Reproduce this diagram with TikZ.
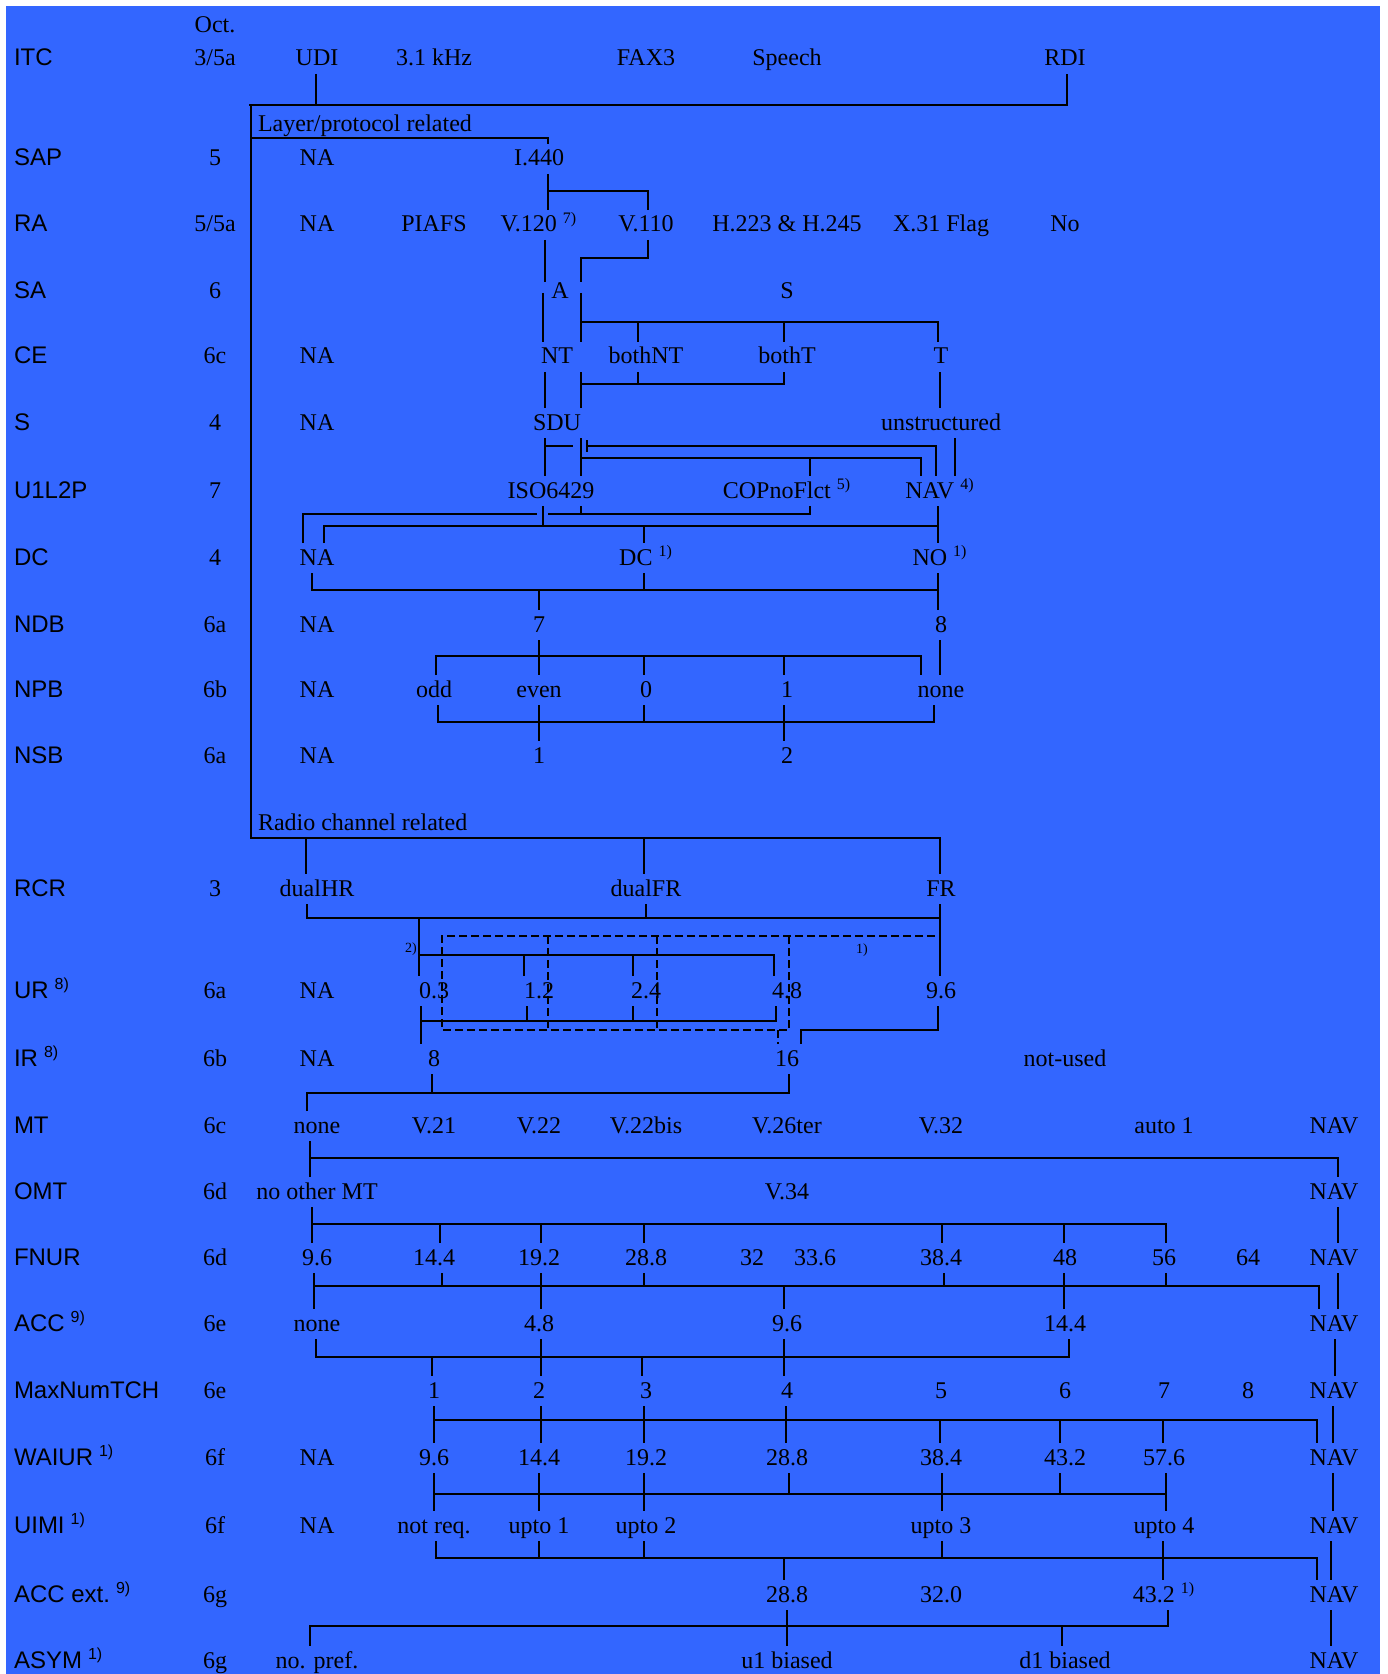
\documentclass[tikz,border=0pt]{standalone}
\usepackage{fontspec}
\setmainfont{Liberation Serif}
\setsansfont{Liberation Sans}
\definecolor{mybgblue}{RGB}{51,102,255}
\newcommand{\fnref}[1]{\hspace{3pt}\textsuperscript{#1}}

\begin{document}
\begin{tikzpicture}[x=0.5pt, y=-0.5pt, line width=1pt,
  val/.style={font=\fontsize{12}{14}\selectfont, inner sep=0pt, outer sep=3pt, text height=8pt, text depth=1pt, anchor=base},
  hdr/.style={font=\sffamily\fontsize{12}{14}\selectfont, inner sep=0pt, anchor=base west},
  grp/.style={font=\fontsize{12}{14}\selectfont, inner sep=0pt, anchor=base west},
  note/.style={font=\fontsize{7}{8}\selectfont, inner sep=0pt, anchor=base}]
\useasboundingbox (0,0) rectangle (1387,1674);
\fill[white] (0,0) rectangle (1387,1674);
\fill[mybgblue] (6,6) rectangle (1380,1674);

\node[val] (oct) at (215,33) {Oct.};
\foreach \nm/\lab/\oc/\yy in {itc/ITC/{3/5a}/66, sap/SAP/5/166, ra/RA/{5/5a}/232, sa/SA/6/299,
    ce/CE/6c/364, s/S/4/430, ul/U1L2P/7/498, dc/DC/4/565, ndb/NDB/6a/632, npb/NPB/6b/697,
    nsb/NSB/6a/763, rcr/RCR/3/896, ur/{UR\fnref{8)}}/6a/998, ir/{IR\fnref{8)}}/6b/1066,
    mt/MT/6c/1133, omt/OMT/6d/1199, fnur/FNUR/6d/1265, acc/{ACC\fnref{9)}}/6e/1331,
    mnt/MaxNumTCH/6e/1398, waiur/{WAIUR\fnref{1)}}/6f/1465, uimi/{UIMI\fnref{1)}}/6f/1533,
    acce/{ACC ext.\fnref{9)}}/6g/1602, asym/{ASYM\fnref{1)}}/6g/1668}
{
  \node[hdr] (h-\nm) at (13,\yy) {\lab};
  \node[val] (o-\nm) at (215,\yy) {\oc};
}

\node[grp] (layer) at (257,132) {Layer/protocol related};
\node[grp] (radio) at (257,830) {Radio channel related};

\foreach \nm/\xx/\txt in {udi/317/UDI, khz/434/3.1 kHz, fax/646/FAX3, speech/787/Speech, rdi/1065/RDI}
  \node[val] (\nm) at (\xx,66) {\txt};
\foreach \nm/\xx/\txt in {sapna/317/NA, i440/539/I.440}
  \node[val] (\nm) at (\xx,166) {\txt};
\foreach \nm/\xx/\txt in {rana/317/NA, piafs/434/PIAFS, v120/539/V.120\fnref{7)}, v110/646/V.110,
    h223/787/H.223 \& H.245, x31/941/X.31 Flag, rano/1065/No}
  \node[val] (\nm) at (\xx,232) {\txt};
\foreach \nm/\xx/\txt in {saa/560/A, sas/787/S}
  \node[val] (\nm) at (\xx,299) {\txt};
\foreach \nm/\xx/\txt in {cena/317/NA, nt/557/NT, bothnt/646/bothNT, botht/787/bothT, cet/941/T}
  \node[val] (\nm) at (\xx,364) {\txt};
\foreach \nm/\xx/\txt in {sna/317/NA, sdu/557/SDU, unstr/941/unstructured}
  \node[val] (\nm) at (\xx,430) {\txt};
\foreach \nm/\xx/\txt in {iso/551/ISO6429, cop/787/COPnoFlct\fnref{5)}, ulnav/940/NAV\fnref{4)}}
  \node[val] (\nm) at (\xx,498) {\txt};
\foreach \nm/\xx/\txt in {dcna/317/NA, dcdc/646/DC\fnref{1)}, dcno/940/NO\fnref{1)}}
  \node[val] (\nm) at (\xx,565) {\txt};
\foreach \nm/\xx/\txt in {ndbna/317/NA, ndb7/539/7, ndb8/941/8}
  \node[val] (\nm) at (\xx,632) {\txt};
\foreach \nm/\xx/\txt in {npbna/317/NA, odd/434/odd, even/539/even, zero/646/0, one/787/1, npbnone/941/none}
  \node[val] (\nm) at (\xx,697) {\txt};
\foreach \nm/\xx/\txt in {nsbna/317/NA, nsb1/539/1, nsb2/787/2}
  \node[val] (\nm) at (\xx,763) {\txt};
\foreach \nm/\xx/\txt in {dualhr/317/dualHR, dualfr/646/dualFR, fr/941/FR}
  \node[val] (\nm) at (\xx,896) {\txt};
\foreach \nm/\xx/\txt in {urna/317/NA, ur03/434/0.3, ur12/539/1.2, ur24/646/2.4, ur48/787/4.8, ur96/941/9.6}
  \node[val] (\nm) at (\xx,998) {\txt};
\foreach \nm/\xx/\txt in {irna/317/NA, ir8/434/8, ir16/787/16, notused/1065/not-used}
  \node[val] (\nm) at (\xx,1066) {\txt};
\foreach \nm/\xx/\txt in {mtnone/317/none, v21/434/V.21, v22/539/V.22, v22bis/646/V.22bis,
    v26ter/787/V.26ter, v32/941/V.32, auto/1164/auto 1, mtnav/1334/NAV}
  \node[val] (\nm) at (\xx,1133) {\txt};
\foreach \nm/\xx/\txt in {omtno/317/no other MT, v34/787/V.34, omtnav/1334/NAV}
  \node[val] (\nm) at (\xx,1199) {\txt};
\foreach \nm/\xx/\txt in {f96/317/9.6, f144/434/14.4, f192/539/19.2, f288/646/28.8, f32/752/32,
    f336/815/33.6, f384/941/38.4, f48/1065/48, f56/1164/56, f64/1248/64, fnav/1334/NAV}
  \node[val] (\nm) at (\xx,1265) {\txt};
\foreach \nm/\xx/\txt in {accnone/317/none, acc48/539/4.8, acc96/787/9.6, acc144/1065/14.4, accnav/1334/NAV}
  \node[val] (\nm) at (\xx,1331) {\txt};
\foreach \nm/\xx/\txt in {m1/434/1, m2/539/2, m3/646/3, m4/787/4, m5/941/5, m6/1065/6, m7/1164/7,
    m8/1248/8, mnav/1334/NAV}
  \node[val] (\nm) at (\xx,1398) {\txt};
\foreach \nm/\xx/\txt in {wna/317/NA, w96/434/9.6, w144/539/14.4, w192/646/19.2, w288/787/28.8,
    w384/941/38.4, w432/1065/43.2, w576/1164/57.6, wnav/1334/NAV}
  \node[val] (\nm) at (\xx,1465) {\txt};
\foreach \nm/\xx/\txt in {una/317/NA, notreq/434/not req., upto1/539/upto 1, upto2/646/upto 2,
    upto3/941/upto 3, upto4/1164/upto 4, unav/1334/NAV}
  \node[val] (\nm) at (\xx,1533) {\txt};
\foreach \nm/\xx/\txt in {a288/787/28.8, a320/941/32.0, a432/1164/43.2\fnref{1)}, anav/1334/NAV}
  \node[val] (\nm) at (\xx,1602) {\txt};
\foreach \nm/\xx/\txt in {nopref/317/no. pref., u1/787/u1 biased, d1/1065/d1 biased, asnav/1334/NAV}
  \node[val] (\nm) at (\xx,1668) {\txt};

% ITC and the two groups
\draw (udi.south -| 316,0) -- (316,105);
\draw (249,105) -| (rdi.south -| 1067,0);
\draw (251,105) -- (251,838) -| (fr.north -| 940,0);
\draw (251,138) -| (i440.north -| 548,0);
\draw (306,838) -- (dualhr.north -| 306,0);
\draw (644,838) -- (dualfr.north -| 644,0);

% SAP .. NSB
\draw (i440.south -| 548,0) -- (v120.north -| 548,0);
\draw (548,191) -| (v110.north -| 648,0);
\draw (v120.south -| 545,0) -- (545,282);
\draw (543,293) -- (nt.north -| 543,0);
\draw (v110.south -| 648,0) |- (581,258) -- (581,282);
\draw (581,293) -- (nt.north -| 581,0);
\draw (581,322) -| (cet.north -| 938,0);
\draw (638,322) -- (bothnt.north -| 638,0);
\draw (784,322) -- (botht.north -| 784,0);
\draw (nt.south -| 545,0) -- (sdu.north -| 545,0);
\draw (nt.south -| 581,0) -- (sdu.north -| 581,0);
\draw (581,384) -| (botht.south -| 784,0);
\draw (638,384) -- (bothnt.south -| 638,0);
\draw (cet.south -| 940,0) -- (unstr.north -| 940,0);
\draw (sdu.south -| 545,0) -- (iso.north -| 545,0);
\draw (545,446) -- (573,446);
\draw (sdu.south -| 581,0) -- (iso.north -| 581,0);
\draw (587,440) -- (587,452);
\draw (587,446) -| (ulnav.north -| 936,0);
\draw (581,458) -| (ulnav.north -| 921,0);
\draw (810,458) -- (cop.north -| 810,0);
\draw (unstr.south -| 955,0) -- (ulnav.north -| 955,0);
\draw (dcna.north -| 303,0) |- (537,514);
\draw (548,514) -| (cop.south -| 810,0);
\draw (iso.south -| 581,0) -- (581,514);
\draw (dcna.north -| 324,0) |- (938,526);
\draw (iso.south -| 543,0) -- (543,526);
\draw (644,526) -- (dcdc.north -| 644,0);
\draw (ulnav.south -| 938,0) -- (dcno.north -| 938,0);
\draw (dcna.south -| 312,0) |- (938,590);
\draw (dcdc.south -| 644,0) -- (644,590);
\draw (539,590) -- (ndb7.north -| 539,0);
\draw (dcno.south -| 938,0) -- (ndb8.north -| 938,0);
\draw (ndb7.south -| 539,0) -- (even.north -| 539,0);
\draw (odd.north -| 436,0) |- (656,656) -| (npbnone.north -| 921,0);
\draw (644,656) -- (zero.north -| 644,0);
\draw (784,656) -- (one.north -| 784,0);
\draw (ndb8.south -| 940,0) -- (npbnone.north -| 940,0);
\draw (odd.south -| 438,0) |- (700,722) -| (npbnone.south -| 934,0);
\draw (zero.south -| 644,0) -- (644,722);
\draw (even.south -| 539,0) -- (nsb1.north -| 539,0);
\draw (one.south -| 784,0) -- (nsb2.north -| 784,0);

% RCR .. IR
\draw (dualhr.south -| 307,0) |- (940,918);
\draw (dualfr.south -| 646,0) -- (646,918);
\draw (fr.south -| 940,0) -- (ur96.north -| 940,0);
\draw (419,918) -- (ur03.north -| 419,0);
\draw (419,955) -| (ur48.north -| 774,0);
\draw (524,955) -- (ur12.north -| 524,0);
\draw (633,955) -- (ur24.north -| 633,0);
\draw[dash pattern=on 4pt off 2pt] (935,936) -| (442,1030) -| (789,936);
\draw[dash pattern=on 4pt off 2pt] (548,936) -- (548,1030);
\draw[dash pattern=on 4pt off 2pt] (657,936) -- (657,1030);
\draw[dash pattern=on 4pt off 2pt] (778,1030) -- (ir16.north -| 778,0);
\node[note] (n2) at (411,952) {2)};
\node[note] (n1) at (862,953) {1)};
\draw (ur03.south -| 421,0) -- (ir8.north -| 421,0);
\draw (421,1021) -| (ur48.south -| 776,0);
\draw (527,1021) -- (ur12.south -| 527,0);
\draw (633,1021) -- (ur24.south -| 633,0);
\draw (ur96.south -| 938,0) |- (801,1030) -- (ir16.north -| 801,0);
\draw (ir8.south -| 432,0) -- (432,1093);
\draw (mtnone.north -| 307,0) |- (789,1093) -- (ir16.south -| 789,0);

% MT .. ASYM
\draw (mtnone.south -| 310,0) -- (omtno.north -| 310,0);
\draw (310,1158) -| (omtnav.north -| 1338,0);
\draw (omtno.south -| 312,0) -- (f96.north -| 312,0);
\draw (312,1224) -| (f56.north -| 1166,0);
\foreach \nm/\xx in {f144/440, f192/541, f288/644, f384/942, f48/1064}
  \draw (\xx,1224) -- (\nm.north -| \xx,0);
\draw (omtnav.south -| 1338,0) -- (fnav.north -| 1338,0);

\draw (f96.south -| 314,0) -- (accnone.north -| 314,0);
\draw (314,1286) -| (accnav.north -| 1319,0);
\foreach \nm/\xx in {f144/442, f288/644, f384/944, f56/1166}
  \draw (\nm.south -| \xx,0) -- (\xx,1286);
\draw (f192.south -| 541,0) -- (acc48.north -| 541,0);
\draw (f48.south -| 1064,0) -- (acc144.north -| 1064,0);
\draw (784,1286) -- (acc96.north -| 784,0);
\draw (fnav.south -| 1338,0) -- (accnav.north -| 1338,0);

\draw (accnone.south -| 316,0) |- (700,1357) -| (acc144.south -| 1069,0);
\draw (432,1357) -- (m1.north -| 432,0);
\draw (642,1357) -- (m3.north -| 642,0);
\draw (acc48.south -| 541,0) -- (m2.north -| 541,0);
\draw (acc96.south -| 784,0) -- (m4.north -| 784,0);
\draw (accnav.south -| 1335,0) -- (mnav.north -| 1335,0);

\draw (m1.south -| 434,0) -- (w96.north -| 434,0);
\draw (434,1420) -| (wnav.north -| 1317,0);
\draw (m2.south -| 541,0) -- (w144.north -| 541,0);
\draw (m3.south -| 644,0) -- (w192.north -| 644,0);
\draw (m4.south -| 786,0) -- (w288.north -| 786,0);
\foreach \nm/\xx in {w384/940, w432/1060, w576/1163}
  \draw (\xx,1420) -- (\nm.north -| \xx,0);
\draw (mnav.south -| 1333,0) -- (wnav.north -| 1333,0);

\draw (w96.south -| 434,0) -- (notreq.north -| 434,0);
\draw (434,1494) -- (1166,1494);
\draw (w576.south -| 1166,0) -- (upto4.north -| 1166,0);
\draw (w144.south -| 539,0) -- (upto1.north -| 539,0);
\draw (w192.south -| 644,0) -- (upto2.north -| 644,0);
\draw (w384.south -| 942,0) -- (upto3.north -| 942,0);
\draw (w288.south -| 789,0) -- (789,1494);
\draw (w432.south -| 1060,0) -- (1060,1494);
\draw (wnav.south -| 1333,0) -- (unav.north -| 1333,0);

\draw (notreq.south -| 436,0) |- (800,1558) -| (anav.north -| 1317,0);
\foreach \nm/\xx in {upto1/539, upto2/644, upto3/942}
  \draw (\nm.south -| \xx,0) -- (\xx,1558);
\draw (784,1558) -- (a288.north -| 784,0);
\draw (upto4.south -| 1163,0) -- (a432.north -| 1163,0);
\draw (unav.south -| 1331,0) -- (anav.north -| 1331,0);

\draw (a432.south -| 1168,0) |- (700,1626) -| (nopref.north -| 310,0);
\draw (a288.south -| 787,0) -- (u1.north -| 787,0);
\draw (1062,1626) -- (d1.north -| 1062,0);
\draw (anav.south -| 1331,0) -- (asnav.north -| 1331,0);
\end{tikzpicture}
\end{document}
